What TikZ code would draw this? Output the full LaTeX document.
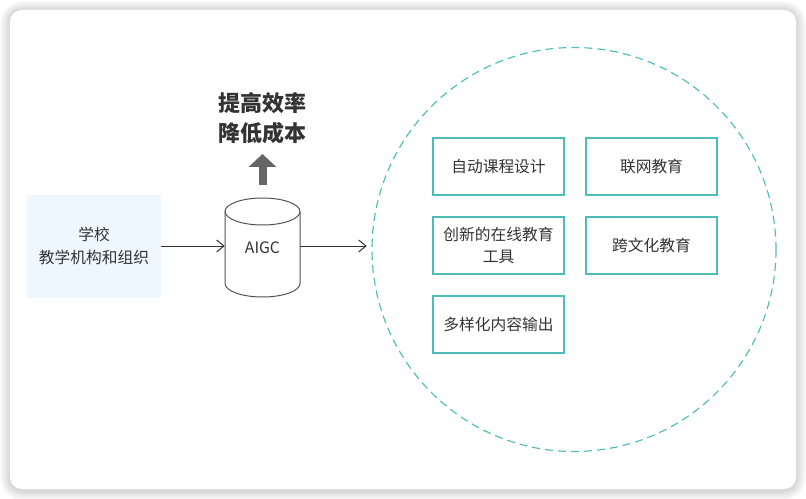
\documentclass[tikz,border=0pt]{standalone}
\usepackage{fontspec}
\setmainfont{Noto Sans CJK SC}
\usetikzlibrary{arrows.meta}
\definecolor{tealc}{HTML}{4DBDBA}
\definecolor{txt}{HTML}{333333}
\definecolor{leftfill}{HTML}{EEF6FE}
\definecolor{upgray}{HTML}{666666}
\begin{document}
\begin{tikzpicture}[x=0.75pt,y=-0.75pt,
  every node/.style={text=txt, font=\fontsize{11.8}{16.8}\selectfont},
  leftbox/.style={fill=leftfill, minimum width=100.5pt, minimum height=77.25pt, align=center, inner sep=0pt},
  itembox/.style={draw=tealc, line width=1.1pt, minimum width=98.25pt, minimum height=42.75pt, align=center, inner sep=0pt, fill=white},
  conn/.style={draw=txt, line width=0.75pt, -{Straight Barb[length=5.5pt,width=9pt,line width=0.75pt]}},
  ring/.style={circle, draw=tealc, line width=0.85pt, dash pattern=on 6pt off 3.75pt, minimum size=303pt, inner sep=0pt}
]
\useasboundingbox (0,0) rectangle (806,499);
% shadow
\foreach \i in {1,...,10} {
  \fill[black, opacity=0.014, rounded corners={9pt+0.75*\i pt}] (10-\i,10-\i+1) rectangle (796+\i,489+\i+1);
}
\fill[white, rounded corners=9pt] (10,10) rectangle (796,489);

% left box
\node[leftbox] (school) at (94,246) {学校\\教学机构和组织};

% cylinder
\node[minimum width=56.25pt, minimum height=74.25pt, inner sep=0pt] (aigc) at (262.5,247.5) {AIGC};
\draw[txt!85, line width=0.75pt]
  (225,211.5) -- (225,283.5) arc[start angle=180, end angle=360, x radius=28.125pt, y radius=10.125pt] -- (300,211.5);
\draw[txt!85, line width=0.75pt] (262.5,211.5) ellipse[x radius=28.125pt, y radius=10.125pt];

% goal text and up arrow
\node[font=\bfseries\fontsize{16.5}{22.5}\selectfont, align=center] (goal) at (262.5,118) {提高效率\\降低成本};
\coordinate (upbase) at (262.5,185);
\coordinate (uptip) at (262.5,154);
\draw[upgray, line width=6pt, -{Triangle[length=9.75pt,width=20.25pt]}] (upbase) -- (uptip);

% ring
\node[ring] (ring) at (574,249.5) {};

% items
\node[itembox] (b1) at (498.5,166.5) {自动课程设计};
\node[itembox] (b2) at (651.5,166.5) {联网教育};
\node[itembox] (b3) at (498.5,245.5) {创新的在线教育\\工具};
\node[itembox] (b4) at (651.5,245.5) {跨文化教育};
\node[itembox] (b5) at (498.5,324.5) {多样化内容输出};

% connectors
\draw[conn] (school.east) -- (school.east -| aigc.west);
\draw[conn, shorten >=3.5pt] (aigc.east |- school.east) -- (school.east -| ring.west);
\end{tikzpicture}
\end{document}
